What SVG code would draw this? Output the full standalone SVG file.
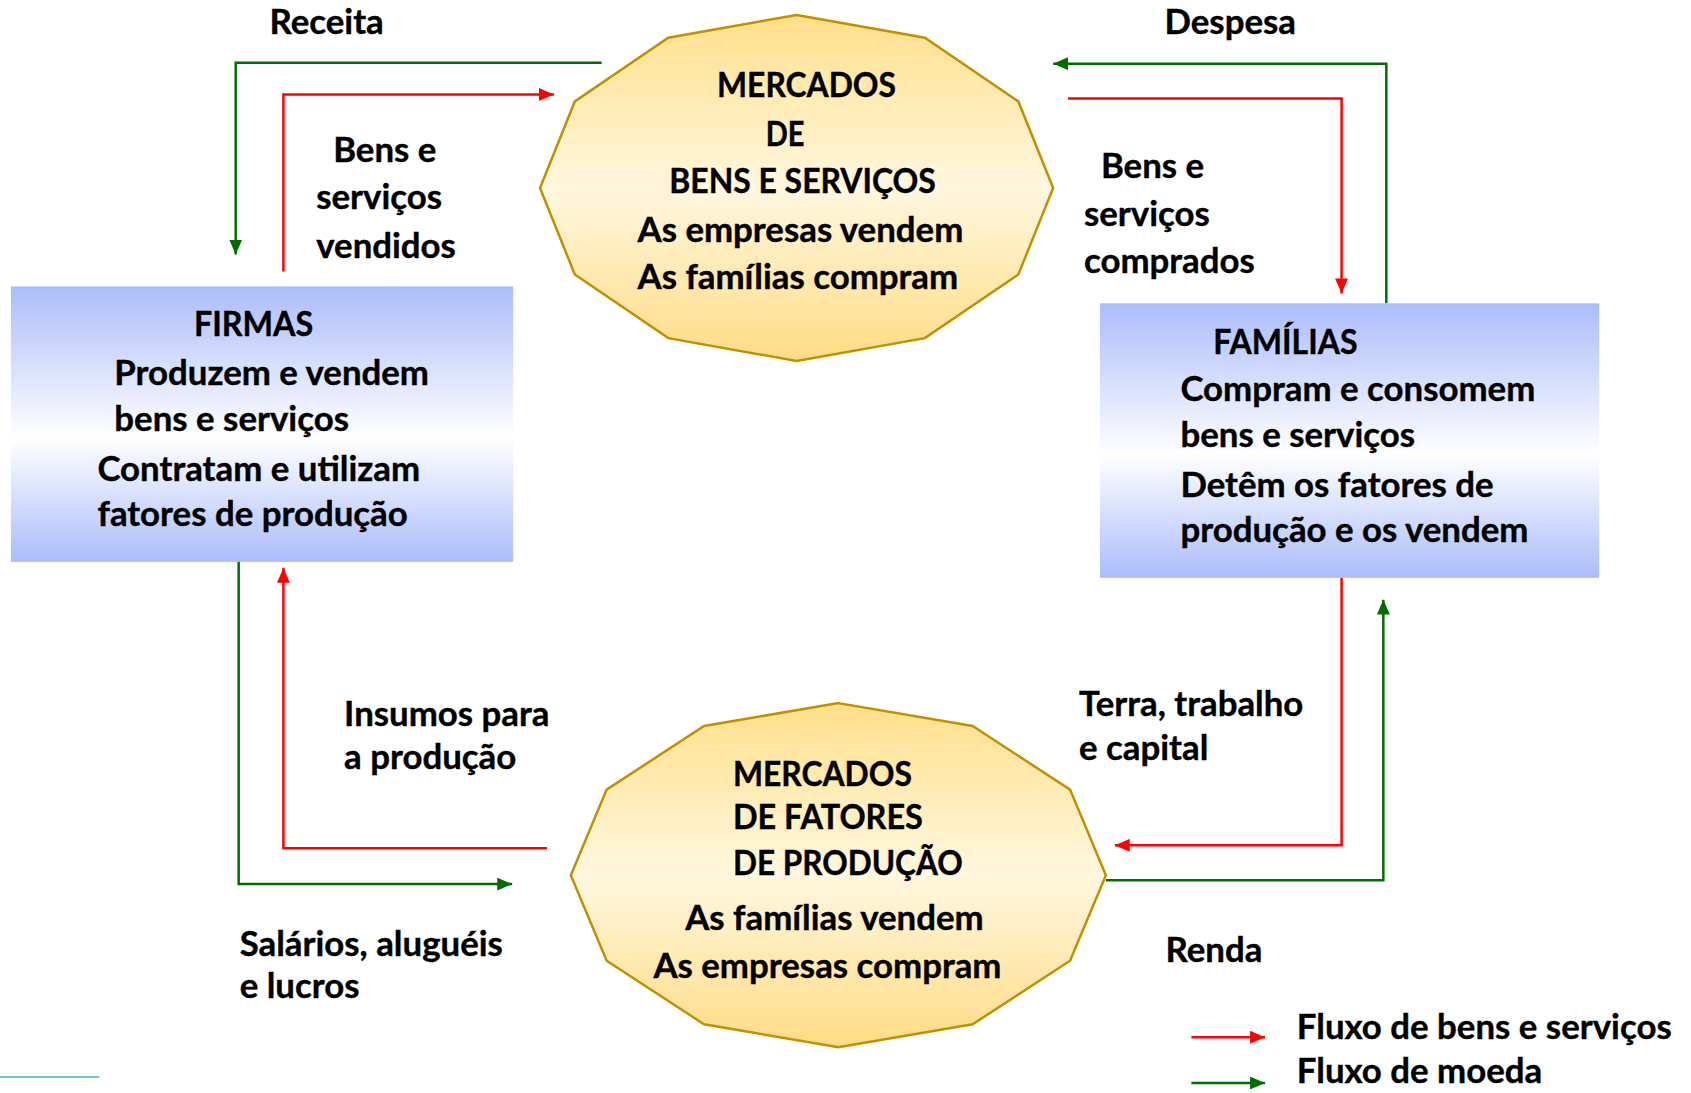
<svg xmlns="http://www.w3.org/2000/svg" width="1691" height="1093" viewBox="0 0 1691 1093">
<defs>
<linearGradient id="gOct" x1="0" y1="0" x2="0" y2="1">
<stop offset="0" stop-color="#FFDF8A"/>
<stop offset="0.5" stop-color="#FFF7DF"/>
<stop offset="1" stop-color="#FFDC85"/>
</linearGradient>
<linearGradient id="gBox" x1="0" y1="0" x2="0" y2="1">
<stop offset="0" stop-color="#ABBCFA"/>
<stop offset="0.55" stop-color="#FFFFFF"/>
<stop offset="1" stop-color="#ABBCFA"/>
</linearGradient>
<marker id="aRed" viewBox="0 0 15 13" refX="15" refY="6.5" markerWidth="15" markerHeight="13" markerUnits="userSpaceOnUse" orient="auto">
<path d="M0,0 L15,6.5 L0,13 z" fill="#FF0000"/>
</marker>
<marker id="aGreen" viewBox="0 0 15 13" refX="15" refY="6.5" markerWidth="15" markerHeight="13" markerUnits="userSpaceOnUse" orient="auto">
<path d="M0,0 L15,6.5 L0,13 z" fill="#006D00"/>
</marker>
</defs>
<style>
text{font-family:Lato,"Open Sans","Liberation Sans",sans-serif;font-weight:bold;font-size:35px;fill:#000;stroke:#000;stroke-width:0.4}
.oct{fill:url(#gOct);stroke:#BF9000;stroke-width:2.5}
.box{fill:url(#gBox)}
.red{fill:none;stroke:#FF0000;stroke-width:2.5;marker-end:url(#aRed)}
.green{fill:none;stroke:#006D00;stroke-width:2.5;marker-end:url(#aGreen)}
</style>
<rect width="1691" height="1093" fill="#FFFFFF"/>
<g transform="scale(0.9945)">
<g id="connectors">
<path class="green" d="M605,63 L237,63 L237,256"/>
<path class="red" d="M285,273 L285,95 L557,95"/>
<path class="green" d="M1394,305 L1394,64 L1059,64"/>
<path class="red" d="M1074,99 L1349,99 L1349,295"/>
<path class="red" d="M1349,581 L1349,850 L1121,850"/>
<path class="green" d="M1112,885 L1391,885 L1391,603"/>
<path class="red" d="M550,853 L285,853 L285,571"/>
<path class="green" d="M240,555 L240,889 L515,889"/>
</g>

<g id="mercado-bens">
<polygon class="oct" points="801,15 930,38 1024,102 1059,189 1024,276 930,340 801,363 672,340 578,276 543,189 578,102 672,38"/>
<text x="721" y="98" textLength="180" lengthAdjust="spacingAndGlyphs">MERCADOS</text>
<text x="770" y="147" textLength="39" lengthAdjust="spacingAndGlyphs">DE</text>
<text x="673" y="194" textLength="268" lengthAdjust="spacingAndGlyphs">BENS E SERVIÇOS</text>
<text x="641" y="243">As empresas vendem</text>
<text x="641" y="291">As famílias compram</text>
</g>

<g id="mercado-fatores">
<polygon class="oct" points="843,707 978,730 1076,794 1112,880 1076,966 978,1030 843,1053 708,1030 610,966 574,880 610,794 708,730"/>
<text x="737" y="790" textLength="180" lengthAdjust="spacingAndGlyphs">MERCADOS</text>
<text x="737" y="834" textLength="191" lengthAdjust="spacingAndGlyphs">DE FATORES</text>
<text x="737" y="880" textLength="231" lengthAdjust="spacingAndGlyphs">DE PRODUÇÃO</text>
<text x="689" y="935">As famílias vendem</text>
<text x="657" y="983">As empresas compram</text>
</g>

<g id="firmas">
<rect class="box" x="11" y="288" width="505" height="277"/>
<text x="195" y="338" textLength="120" lengthAdjust="spacingAndGlyphs">FIRMAS</text>
<text x="115" y="387">Produzem e vendem</text>
<text x="115" y="433">bens e serviços</text>
<text x="98" y="484">Contratam e utilizam</text>
<text x="98" y="529">fatores de produção</text>
</g>

<g id="familias">
<rect class="box" x="1106" y="305" width="502" height="276"/>
<text x="1220" y="356" textLength="145" lengthAdjust="spacingAndGlyphs">FAMÍLIAS</text>
<text x="1187" y="403">Compram e consomem</text>
<text x="1187" y="449">bens e serviços</text>
<text x="1187" y="500">Detêm os fatores de</text>
<text x="1187" y="545">produção e os vendem</text>
</g>

<g id="labels">
<text x="271" y="34">Receita</text>
<text x="1171" y="34">Despesa</text>
<text x="335" y="163">Bens e</text>
<text x="318" y="210">serviços</text>
<text x="318" y="259">vendidos</text>
<text x="1107" y="179">Bens e</text>
<text x="1090" y="227">serviços</text>
<text x="1090" y="275">comprados</text>
<text x="346" y="730">Insumos para</text>
<text x="346" y="773">a produção</text>
<text x="1085" y="720">Terra, trabalho</text>
<text x="1085" y="764">e capital</text>
<text x="241" y="961">Salários, aluguéis</text>
<text x="241" y="1004">e lucros</text>
<text x="1172" y="967">Renda</text>
</g>

<g id="legend">
<line x1="1198" y1="1043" x2="1272" y2="1043" class="red"/>
<line x1="1198" y1="1089" x2="1272" y2="1089" class="green"/>
<text x="1304" y="1045">Fluxo de bens e serviços</text>
<text x="1304" y="1089">Fluxo de moeda</text>
</g>

<line x1="0" y1="1083" x2="100" y2="1083" stroke="#4BACC6" stroke-width="1.5"/>
</g>
</svg>
